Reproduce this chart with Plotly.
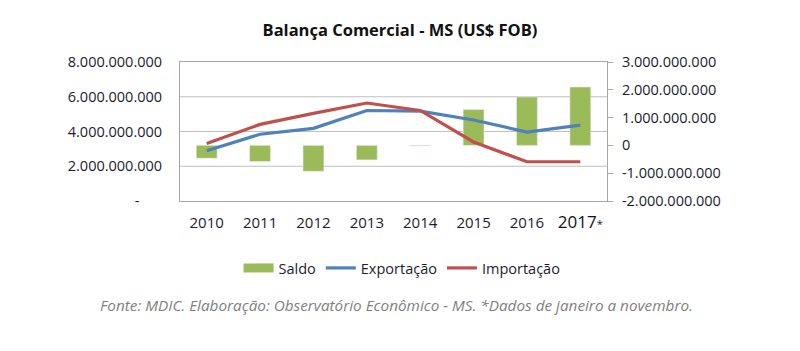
import plotly.graph_objects as go

anos = ["2010", "2011", "2012", "2013", "2014", "2015", "2016", "2017"]
rotulos_x = ["2010", "2011", "2012", "2013", "2014", "2015", "2016",
             "<span style='font-size:17px;color:#111'>2017</span><span style='font-size:11px'>*</span>"]
saldo = [-0.46e9, -0.58e9, -0.93e9, -0.52e9, -0.02e9, 1.29e9, 1.74e9, 2.10e9]
exportacao = [2.89e9, 3.84e9, 4.18e9, 5.21e9, 5.17e9, 4.66e9, 3.97e9, 4.37e9]
importacao = [3.31e9, 4.41e9, 5.04e9, 5.64e9, 5.21e9, 3.40e9, 2.26e9, 2.26e9]

esq_vals = [0, 2e9, 4e9, 6e9, 8e9]
esq_text = ["-&nbsp;&nbsp;&nbsp;&nbsp;&nbsp;&nbsp;", "2.000.000.000", "4.000.000.000",
            "6.000.000.000", "8.000.000.000"]
grade_vals = [2e9, 4e9, 6e9]
dir_vals = [-2e9, -1e9, 0, 1e9, 2e9, 3e9]
dir_text = ["-2.000.000.000", "-1.000.000.000", "0", "1.000.000.000",
            "2.000.000.000", "3.000.000.000"]

FONT = "Open Sans"
TXT = "#1c1c30"
VERDE = "#9bbb59"

fig = go.Figure()
# bars on the primary (right-side) axis so the lines draw on top
fig.add_trace(go.Bar(x=anos, y=saldo, name="Saldo", marker_color=VERDE,
                     width=0.39, yaxis="y", showlegend=False))
# legend entry for Saldo drawn as a wide block
fig.add_trace(go.Scatter(x=[None], y=[None], name="Saldo", mode="lines",
                         line=dict(color=VERDE, width=9), yaxis="y2"))
fig.add_trace(go.Scatter(x=anos, y=exportacao, name="Exportação", mode="lines",
                         line=dict(color="#4f81bd", width=3.2), yaxis="y2"))
fig.add_trace(go.Scatter(x=anos, y=importacao, name="Importação", mode="lines",
                         line=dict(color="#c0504d", width=3.2), yaxis="y2"))

for v in grade_vals:
    fig.add_shape(type="line", xref="paper", x0=0, x1=1, yref="y2", y0=v, y1=v,
                  line=dict(color="#bfbfbf", width=1), layer="below")

fig.update_layout(
    width=800, height=351,
    margin=dict(l=180, r=193, t=62, b=150),
    paper_bgcolor="white", plot_bgcolor="white",
    font=dict(family=FONT, size=14.5, color=TXT),
    title=dict(text="<b>Balança Comercial - MS (US$ FOB)</b>", x=0.5, xref="container",
               y=1 - 30 / 351, yref="container", yanchor="middle", xanchor="center",
               font=dict(family=FONT, size=16.5, color="#111")),
    xaxis=dict(type="category", tickvals=anos, ticktext=rotulos_x,
               showline=True, linecolor="#a6a6a6", linewidth=1, mirror=True,
               showgrid=False, ticks="", tickfont=dict(size=15, color=TXT),
               ticklabelstandoff=8),
    yaxis=dict(range=[-2e9, 3e9], tickvals=dir_vals, ticktext=dir_text,
               side="right", showgrid=False, zeroline=False,
               showline=True, linecolor="#a6a6a6", mirror=True,
               ticks="outside", ticklen=5, tickcolor="#a6a6a6", ticklabelstandoff=6),
    yaxis2=dict(range=[0, 8e9], tickvals=esq_vals, ticktext=esq_text,
                overlaying="y", side="left", showgrid=False,
                showline=True, linecolor="#a6a6a6", linewidth=1,
                zeroline=False, ticks="", ticklabelstandoff=14),
    legend=dict(orientation="h", x=0.52, xanchor="center", y=(201 - 268) / 139,
                yanchor="middle", font=dict(size=14.5, color=TXT),
                traceorder="normal", itemwidth=30, entrywidth=0),
    showlegend=True,
    bargap=0.6,
)

fig.add_annotation(text="<i>Fonte: MDIC. Elaboração: Observatório Econômico - MS. *Dados de janeiro a novembro.</i>",
                   xref="paper", yref="paper", x=(396 - 180) / 427, y=(201 - 305) / 139,
                   xanchor="center", yanchor="middle", showarrow=False,
                   font=dict(family=FONT, size=15.3, color="#7f7f7f"))

fig.write_html("out.html")
